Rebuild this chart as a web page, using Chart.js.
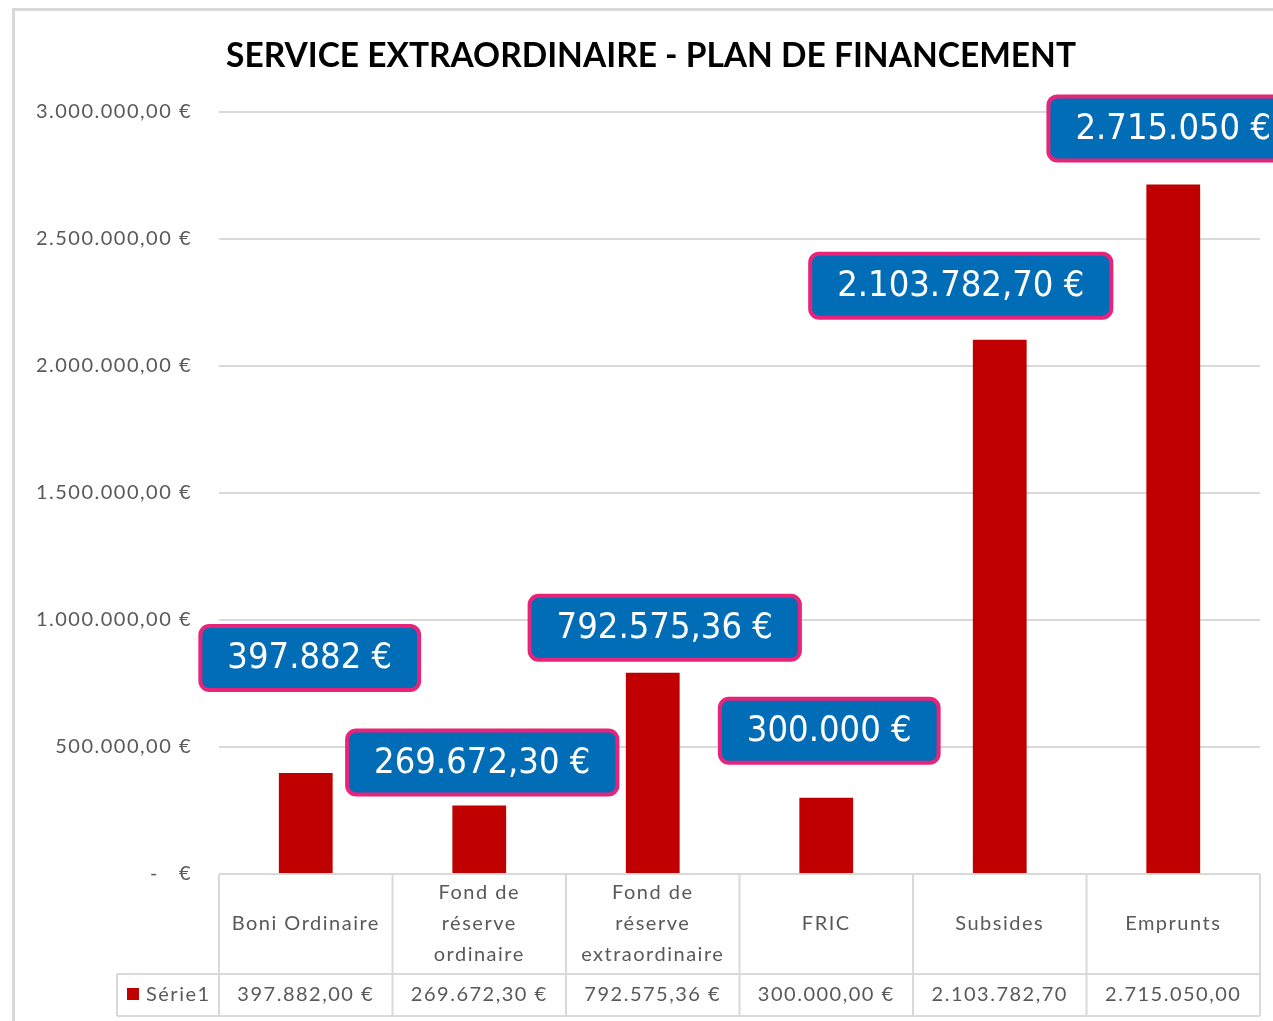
<!DOCTYPE html>
<html>
<head>
<meta charset="utf-8">
<script src="https://cdn.jsdelivr.net/npm/chart.js@4.4.0/dist/chart.umd.min.js"></script>
<style>
  html, body { margin: 0; padding: 0; background: #fff; overflow: hidden; }
  #wrap { width: 1273px; height: 1021px; }
</style>
</head>
<body>
<div id="wrap"><canvas id="financeChart" width="1273" height="1021"></canvas></div>
<script>
// --- Data ---
const chartTitle = 'SERVICE EXTRAORDINAIRE - PLAN DE FINANCEMENT';
const categories = [
  ['Boni Ordinaire'],
  ['Fond de', 'réserve', 'ordinaire'],
  ['Fond de', 'réserve', 'extraordinaire'],
  ['FRIC'],
  ['Subsides'],
  ['Emprunts']
];
const seriesName = 'Série1';
const values = [397882.00, 269672.30, 792575.36, 300000.00, 2103782.70, 2715050.00];
const tableLabels = ['397.882,00 €', '269.672,30 €', '792.575,36 €', '300.000,00 €', '2.103.782,70', '2.715.050,00'];
const calloutLabels = ['397.882 €', '269.672,30 €', '792.575,36 €', '300.000 €', '2.103.782,70 €', '2.715.050 €'];
const yTickValues = [0, 500000, 1000000, 1500000, 2000000, 2500000, 3000000];

// callout placement relative to the top of each bar (moved by hand in the original)
const calloutOffsets = [[4, -115], [3, -43], [12, -45], [3, -67], [-39, -54], [0, -56]];

const GRID = '#d9d9d9';
const TEXT = '#595959';
const BAR = '#c00000';
const TXT_FONT = '20px Lato, "Open Sans", sans-serif';
const SPACING = '1.5px';

function fmtTick(v) {
  if (v === 0) return '-   €';
  const s = v.toFixed(2).split('.');
  const int = s[0].replace(/\B(?=(\d{3})+(?!\d))/g, '.');
  return int + ',' + s[1] + ' €';
}

// --- Frame, title and data table ---
const decorPlugin = {
  id: 'decor',
  beforeDraw(chart) {
    const c = chart.ctx;
    c.save();
    c.fillStyle = '#fff';
    c.fillRect(0, 0, chart.width, chart.height);
    c.strokeStyle = GRID;
    c.lineWidth = 3;
    c.strokeRect(13.5, 9.5, 1400, 1200);
    c.fillStyle = '#000';
    c.font = 'bold 33.5px Lato, "Open Sans", sans-serif';
    c.letterSpacing = '0px';
    c.textAlign = 'center';
    c.textBaseline = 'middle';
    c.fillText(chartTitle, 651, 56);
    c.restore();
    // the Calibri-like text of the original is spaced wider than Lato
    c.letterSpacing = SPACING;
  },
  afterDraw(chart) {
    const c = chart.ctx;
    const xs = chart.scales.x;
    const area = chart.chartArea;
    const top = area.bottom;
    const rowMid = top + 100;
    const bottom = top + 142;
    const colW = (area.right - area.left) / categories.length;
    c.save();
    c.strokeStyle = GRID;
    c.lineWidth = 2;
    c.beginPath();
    c.moveTo(area.left, top); c.lineTo(area.right, top);
    c.moveTo(117, rowMid); c.lineTo(area.right, rowMid);
    c.moveTo(117, bottom); c.lineTo(area.right, bottom);
    c.moveTo(117, rowMid); c.lineTo(117, bottom);
    for (let i = 0; i <= categories.length; i++) {
      const x = area.left + i * colW;
      c.moveTo(x, top); c.lineTo(x, bottom);
    }
    c.stroke();

    c.fillStyle = TEXT;
    c.font = TXT_FONT;
    c.letterSpacing = SPACING;
    c.textAlign = 'center';
    c.textBaseline = 'middle';
    const lineH = 31;
    categories.forEach((lines, i) => {
      const x = xs.getPixelForValue(i);
      const y0 = top + 50 - (lines.length - 1) * lineH / 2;
      lines.forEach((t, j) => c.fillText(t, x, y0 + j * lineH));
      c.fillText(tableLabels[i], x, (rowMid + bottom) / 2);
    });
    // legend key
    c.fillStyle = BAR;
    c.fillRect(127, 988, 12, 12);
    c.fillStyle = TEXT;
    c.textAlign = 'left';
    c.fillText(seriesName, 146, (rowMid + bottom) / 2);
    c.restore();
  }
};

// --- Blue callout labels ---
const calloutPlugin = {
  id: 'callouts',
  afterDatasetsDraw(chart) {
    const c = chart.ctx;
    const meta = chart.getDatasetMeta(0);
    c.save();
    c.letterSpacing = '0px';
    c.font = '36px "DejaVu Sans Condensed", "DejaVu Sans", sans-serif';
    c.textAlign = 'center';
    c.textBaseline = 'middle';
    meta.data.forEach((bar, i) => {
      const [dx, dy] = calloutOffsets[i];
      const cx = bar.x + dx;
      const cy = bar.y + dy;
      const tw = c.measureText(calloutLabels[i]).width;
      const w = tw + 54;
      const h = 64;
      c.beginPath();
      c.roundRect(cx - w / 2, cy - h / 2, w, h, 9);
      c.fillStyle = '#006db6';
      c.fill();
      c.lineWidth = 4;
      c.strokeStyle = '#e8237a';
      c.stroke();
      c.fillStyle = '#fff';
      c.fillText(calloutLabels[i], cx, cy + 1);
    });
    c.restore();
  }
};

const ctx = document.getElementById('financeChart').getContext('2d');
new Chart(ctx, {
  type: 'bar',
  data: {
    labels: categories.map(l => l.join(' ')),
    datasets: [{
      label: seriesName,
      data: values,
      backgroundColor: BAR,
      borderWidth: 0,
      barPercentage: 0.31,
      categoryPercentage: 1.0
    }]
  },
  options: {
    responsive: false,
    animation: false,
    devicePixelRatio: 1,
    layout: { padding: { left: 0, right: 13, top: 112, bottom: 147 } },
    plugins: {
      legend: { display: false },
      title: { display: false },
      tooltip: { enabled: false }
    },
    scales: {
      x: { display: false },
      y: {
        min: 0,
        max: 3000000,
        afterFit(scale) { scale.width = 219; },
        afterBuildTicks(scale) { scale.ticks = yTickValues.map(v => ({ value: v })); },
        border: { display: false },
        grid: {
          color: (c) => c.tick && c.tick.value === 0 ? 'rgba(0,0,0,0)' : GRID,
          lineWidth: 2,
          drawTicks: false
        },
        ticks: {
          padding: 27,
          color: TEXT,
          font: { family: 'Lato, "Open Sans", sans-serif', size: 20 },
          callback: (v) => fmtTick(v)
        }
      }
    }
  },
  plugins: [decorPlugin, calloutPlugin]
});
</script>
</body>
</html>
